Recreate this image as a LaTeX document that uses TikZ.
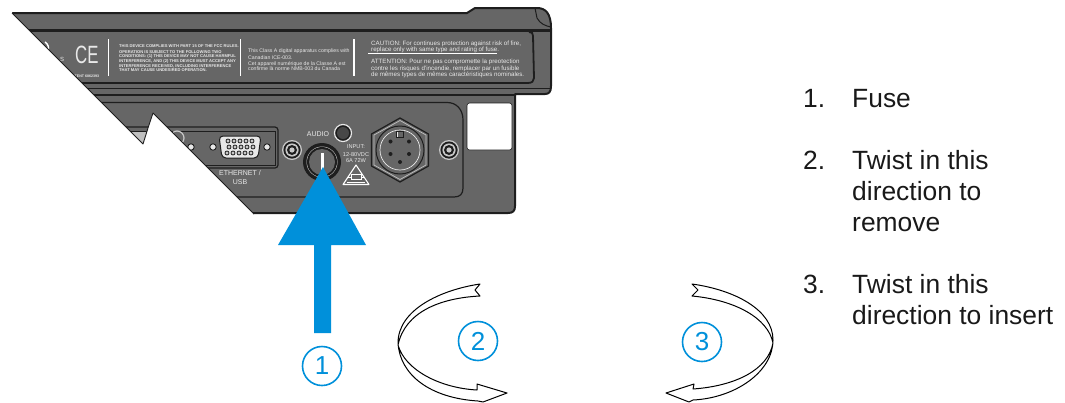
\documentclass[tikz,border=0pt]{standalone}
\usepackage{fontspec}
\setmainfont{Liberation Sans}
\definecolor{bodygray}{HTML}{666666}
\definecolor{darkline}{HTML}{1E1E1E}
\definecolor{accent}{HTML}{0090DA}
\definecolor{faint}{HTML}{E8E8E8}
\definecolor{softer}{HTML}{C8C8C8}
\tikzset{
  listtext/.style={anchor=base west,inner sep=0pt,font=\fontsize{26.4}{31}\selectfont,text=black!90,align=left},
  printed/.style={anchor=base west,inner sep=0pt,text=faint},
  printedc/.style={anchor=base,inner sep=0pt,text=faint},
  badge/.style={circle,draw=accent,line width=1.6pt,minimum size=39pt,inner sep=0pt,text=accent,font=\fontsize{26}{26}\selectfont},
  twist/.style={draw=black,line width=1pt,fill=white,line join=round},
  sep/.style={draw=white,line width=1.5pt},
}
\begin{document}
\begin{tikzpicture}[x=1pt,y=-1pt]
\useasboundingbox (0,0) rectangle (1065,402);
% body
\draw[fill=bodygray,draw=darkline,line width=2pt,line join=round]
  (0,13) -- (467,13) -- (475,8) -- (537,8) .. controls (546,8) and (551,14) .. (551,28)
  -- (551,86) .. controls (551,92) and (549,94) .. (545,94) -- (515,94) -- (515,206)
  .. controls (515,211) and (513,213) .. (508,213) -- (0,213) -- cycle;
\draw[darkline,line width=2.8pt] (0,30.5) -- (551,30.5);
\draw[darkline,line width=1pt] (535,8) -- (537,18) .. controls (540,24) and (546,26) .. (551,27);
\draw[darkline,line width=1.8pt] (0,83) -- (528,83) .. controls (532,83) and (534,81) .. (534,78) -- (533,36) .. controls (533,33) and (532,32) .. (529,32);
\draw[darkline,line width=.8pt] (0,88) -- (551,88);
\draw[darkline,line width=1.4pt] (0,95) -- (515,95);
% recessed panel
\draw[darkline,line width=1.2pt] (0,102.5) -- (447,102.5) .. controls (457,102.5) and (463,110) .. (463,120)
  -- (463,188) .. controls (463,194) and (460,197) .. (454,197) -- (0,197);
% white window
\draw[fill=white,draw=darkline,line width=.6pt,rounded corners=2.5pt] (467,103) rectangle (512,150);
% printed label
\draw[sep] (108.5,39) -- (108.5,76);
\draw[sep] (240.5,39) -- (240.5,76);
\draw[sep] (354,39) -- (354,76);
\draw[draw=white,line width=1.2pt] (368,53.5) -- (497,53.5);
\draw[draw=white,line width=1.4pt] (45,42) arc (-60:70:7);
\node[printed,font=\fontsize{25}{25}\selectfont] (ce) at (75,63) {\scalebox{.67}[1]{CE}};
\node[printed,font=\fontsize{6}{6}\selectfont] (s) at (60,61) {S};
\node[printed,font=\fontsize{3.6}{3.6}\selectfont\bfseries] (pat) at (70,77) {PATENT 6862393};
\begin{scope}[every node/.append style={font=\fontsize{4.1}{4.1}\selectfont\bfseries}]
\node[printed] (f1) at (119,47.5) {THIS DEVICE COMPLIES WITH PART 15 OF THE FCC RULES.};
\node[printed] (f2) at (119,53) {OPERATION IS SUBJECT TO THE FOLLOWING TWO};
\node[printed] (f3) at (119,57.5) {CONDITIONS: (1) THIS DEVICE MAY NOT CAUSE HARMFUL};
\node[printed] (f4) at (119,62.5) {INTERFERENCE, AND (2) THIS DEVICE MUST ACCEPT ANY};
\node[printed] (f5) at (119,67.5) {INTERFERENCE RECEIVED, INCLUDING INTERFERENCE};
\node[printed] (f6) at (119,71.5) {THAT MAY CAUSE UNDESIRED OPERATION.};
\end{scope}
\begin{scope}[every node/.append style={font=\fontsize{5.2}{5}\selectfont}]
\node[printed] (c1) at (248,52.5) {This Class A digital apparatus complies with};
\node[printed] (c2) at (248,59) {Canadian ICE-003.};
\node[printed] (c3) at (248,65) {Cet appareil numérique de la Classe A est};
\node[printed] (c4) at (248,70) {confirme là norme NMB-003 du Canada};
\end{scope}
\begin{scope}[every node/.append style={font=\fontsize{6.2}{6}\selectfont}]
\node[printed] (w1) at (371,45) {CAUTION: For continues protection against risk of fire,};
\node[printed] (w2) at (371,51.5) {replace only with same type and rating of fuse.};
\node[printed] (w3) at (371,63) {ATTENTION: Pour ne pas compromette la preotection};
\node[printed] (w4) at (371,70) {contre les risques d'incendie, remplacer par un fusible};
\node[printed] (w5) at (371,76) {de mêmes types de mêmes caractéristiques nominales.};
\end{scope}
% port plate
\draw[darkline,line width=1.2pt,rounded corners=3pt] (120,127) rectangle (278,168);
\draw[darkline,line width=1pt] (120,131) -- (275,131) -- (275,165) -- (120,165);
\fill[black!25] (128,132) -- (150,132) -- (150,146) -- (128,146) -- cycle;
\draw[fill=bodygray,draw=softer,line width=1.2pt] (177,138) circle (7);
\foreach \px in {191,213,267} \draw[fill=faint,draw=darkline,line width=.9pt] (\px,147) circle (3.2);
% VGA
\draw[fill=faint,draw=darkline,line width=1pt,rounded corners=4pt] (219,136) -- (261,136) -- (258,158) -- (222,158) -- cycle;
\foreach \px in {226,232,238,244,250} \draw[fill=softer,draw=darkline,line width=.8pt] (\px+2,141) circle (2);
\foreach \px in {229,235,241,247,253} \draw[fill=softer,draw=darkline,line width=.8pt] (\px,147) circle (2);
\foreach \px in {226,232,238,244,250} \draw[fill=softer,draw=darkline,line width=.8pt] (\px+1,153) circle (2);
\node[printedc,font=\fontsize{7}{7}\selectfont] (eth) at (240,175) {ETHERNET /};
\node[printedc,font=\fontsize{7}{7}\selectfont] (usb) at (240,184) {USB};
% screws
\foreach \sx in {292,449}{
  \fill[softer] (\sx,150) circle (10);
  \fill[darkline] (\sx,150) circle (8.6);
  \fill[softer] (\sx,150) circle (6.6);
  \fill[darkline] (\sx,150) circle (5);
  \fill[softer] (\sx,150) circle (2.6);
}
% audio
\draw[fill=darkline,draw=faint,line width=1.2pt] (343,133) circle (8.5);
\fill[bodygray!70!black] (343,133) circle (6);
\node[printedc,font=\fontsize{7}{7}\selectfont] (audio) at (318,136) {AUDIO};
% fuse
\fill[darkline] (322,162) circle (19);
\fill[softer] (322,162) circle (15.5);
\fill[darkline] (322,162) circle (15);
\fill[bodygray] (322,162) circle (13);
\fill[white] (320.5,153) rectangle (323.5,172);
% input
\node[printedc,font=\fontsize{5.6}{6}\selectfont] (in1) at (356,148.5) {INPUT:};
\node[printedc,font=\fontsize{5.6}{6}\selectfont] (in2) at (356,156) {12-80VDC};
\node[printedc,font=\fontsize{5.6}{6}\selectfont] (in3) at (356,162) {6A 72W};
\draw[white,line width=1.1pt,line join=round] (356,165) -- (369,184.5) -- (343,184.5) -- cycle;
\draw[white,line width=.8pt] (347,177) -- (365,177);
\draw[white,line width=.8pt,fill=bodygray] (351,174.5) rectangle (361,179.5);
\draw[white,line width=.8pt] (347,182) -- (365,182);
% hex connector
\draw[fill=bodygray,draw=darkline,line width=1.2pt,line join=round] (400,118) -- (428.5,134) -- (428.5,166) -- (400,182) -- (371.5,166) -- (371.5,134) -- cycle;
\draw[draw=faint!70!bodygray,line width=.7pt,line join=round] (400,120.5) -- (426,135) -- (426,165) -- (400,179.5) -- (374,165) -- (374,135) -- cycle;
\draw[draw=darkline,line width=1pt] (400,150) circle (24);
\draw[draw=faint,line width=.7pt] (400,150) circle (20);
\draw[fill=bodygray,draw=faint,line width=.7pt] (397,131.5) rectangle (403,137);
\draw[darkline,line width=.8pt] (396.5,131) rectangle (403.5,137.5);
\foreach \hx/\hy in {390.5/141.5,409/141.5,390.5/154,409/154,400/162} \fill[darkline] (\hx,\hy) circle (2);
% cut-away
\path[fill=white] (12,13) -- (143,144) -- (148,128) -- (153,113) -- (253,213) -- (253,216) -- (-2,216) -- (-2,5) -- (12,5) -- cycle;
\draw[darkline,line width=.9pt,line join=round] (12,13) -- (143,144) -- (148,128) -- (153,113) -- (254,214);
% blue arrow
\fill[accent] (323,167) -- (366,245) -- (331,245) -- (331,333) -- (314,333) -- (314,245) -- (278,245) -- cycle;
% twist arrows
\draw[twist] (480,284) -- (475,290) -- (480,296) .. controls (440,298) and (405,312) .. (398,345)
  .. controls (405,370) and (440,388) .. (477,390) -- (477,384) -- (507,393) -- (483,402) -- (478,401)
  .. controls (430,398) and (400,375) .. (398,343) .. controls (398,310) and (440,290) .. (480,284) -- cycle;
\draw[twist] (692,284) -- (698,290) -- (692,296) .. controls (735,300) and (768,318) .. (773,343)
  .. controls (768,370) and (735,386) .. (693,389) -- (694,384) -- (666,393) -- (689,402) -- (693,400)
  .. controls (735,398) and (773,372) .. (773,340) .. controls (773,310) and (735,290) .. (692,284) -- cycle;
% badges
\node[badge] (b1) at (322,366) {1};
\node[badge] (b2) at (478,341) {2};
\node[badge] (b3) at (702,342) {3};
% list
\node[listtext] (n1) at (803,107) {1.};
\node[listtext] (t1) at (852,107) {Fuse};
\node[listtext] (n2) at (803,169) {2.};
\node[listtext] (t2) at (852,231) {Twist in this\\direction to\\remove};
\node[listtext] (n3) at (803,293) {3.};
\node[listtext] (t3) at (852,324) {Twist in this\\direction to insert};
\end{tikzpicture}
\end{document}
